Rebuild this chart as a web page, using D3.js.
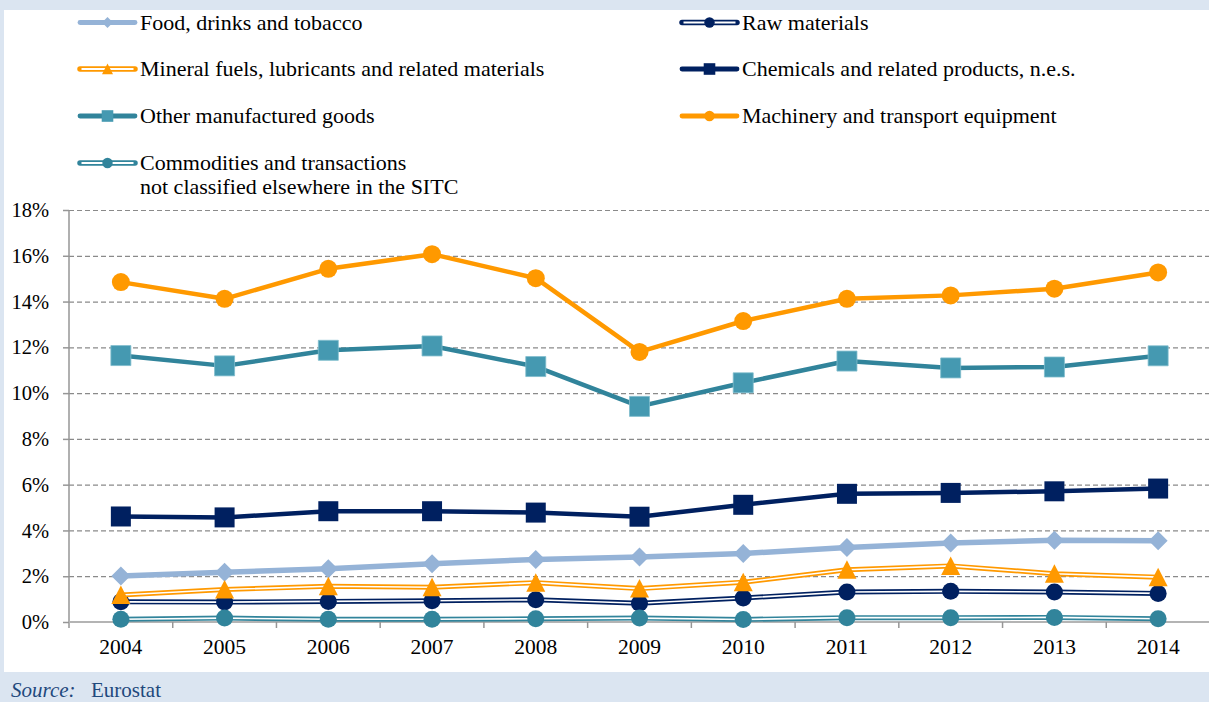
<!DOCTYPE html>
<html>
<head>
<meta charset="utf-8">
<script src="https://cdn.jsdelivr.net/npm/d3@7"></script>
<style>
  html, body { margin: 0; padding: 0; background: #fff; }
  svg { display: block; }
  text { font-family: "Liberation Serif", "Times New Roman", serif; fill: #000; }
</style>
</head>
<body>
<svg id="chart" width="1209" height="702"></svg>
<script>
// Share of extra-EU trade by SITC product group, 2004-2014 (%)
const years = ["2004","2005","2006","2007","2008","2009","2010","2011","2012","2013","2014"];
const yTicks = [0, 2, 4, 6, 8, 10, 12, 14, 16, 18];

const food        = [2.01, 2.17, 2.33, 2.55, 2.73, 2.84, 2.99, 3.25, 3.45, 3.57, 3.55];
const rawMaterials = [0.88, 0.87, 0.90, 0.93, 0.97, 0.82, 1.05, 1.31, 1.34, 1.31, 1.25];
const mineralFuels = [1.18, 1.42, 1.56, 1.52, 1.72, 1.46, 1.74, 2.28, 2.45, 2.11, 1.96];
const chemicals   = [4.61, 4.57, 4.84, 4.84, 4.78, 4.60, 5.12, 5.60, 5.64, 5.71, 5.83];
const otherGoods  = [11.64, 11.19, 11.87, 12.06, 11.16, 9.42, 10.45, 11.40, 11.10, 11.14, 11.63];
const machinery   = [14.85, 14.12, 15.43, 16.07, 15.02, 11.80, 13.15, 14.12, 14.27, 14.56, 15.27];
const commodities = [0.12, 0.17, 0.12, 0.12, 0.14, 0.17, 0.11, 0.19, 0.19, 0.20, 0.14];

const series = [
  { name: ["Food, drinks and tobacco"], values: food, color: "#95b3d7", fill: "#95b3d7", width: 5.5, double: false, marker: "diamond", legendCol: 0, legendRow: 0 },
  { name: ["Raw materials"], values: rawMaterials, color: "#002060", fill: "#002060", width: 5, double: true, marker: "circle", legendCol: 1, legendRow: 0 },
  { name: ["Mineral fuels, lubricants and related materials"], values: mineralFuels, color: "#ff9900", fill: "#ff9900", width: 5, double: true, marker: "triangle", legendCol: 0, legendRow: 1 },
  { name: ["Chemicals and related products, n.e.s."], values: chemicals, color: "#002060", fill: "#002060", width: 4.5, double: false, marker: "square", legendCol: 1, legendRow: 1 },
  { name: ["Other manufactured goods"], values: otherGoods, color: "#31849b", fill: "#4599b1", width: 4.5, double: false, marker: "square", legendCol: 0, legendRow: 2 },
  { name: ["Machinery and transport equipment"], values: machinery, color: "#ff9900", fill: "#ff9900", width: 4.5, double: false, marker: "circle", legendCol: 1, legendRow: 2 },
  { name: ["Commodities and transactions", "not classified elsewhere in the SITC"], values: commodities, color: "#31849b", fill: "#31849b", width: 5, double: true, marker: "circle", legendCol: 0, legendRow: 3 }
];

const svg = d3.select("#chart");
const W = 1209, H = 702;

// frame bands
svg.append("rect").attr("x", 0).attr("y", 0).attr("width", W).attr("height", 10).attr("fill", "#dbe5f1");
svg.append("rect").attr("x", 0).attr("y", 0).attr("width", 4).attr("height", H).attr("fill", "#dbe5f1");
svg.append("rect").attr("x", 0).attr("y", 672).attr("width", W).attr("height", 30).attr("fill", "#dbe5f1");

const plot = { left: 69, right: 1210, top: 210, bottom: 622 };
const x = d3.scaleBand().domain(years).range([plot.left, plot.right]).padding(0);
const y = d3.scaleLinear().domain([0, 18]).range([plot.bottom, plot.top]);
const cx = d => x(d) + x.bandwidth() / 2;

// dashed gridlines
const grid = svg.append("g").attr("transform", `translate(${plot.left},0)`)
  .call(d3.axisLeft(y).tickValues(yTicks.filter(v => v > 0)).tickSize(-(W - plot.left)).tickFormat(""));
grid.select(".domain").remove();
grid.selectAll("line").attr("stroke", "#8a8a8a").attr("stroke-width", 1.2).attr("stroke-dasharray", "5,3");

// y axis
const yAxis = svg.append("g").attr("transform", `translate(${plot.left},0)`)
  .call(d3.axisLeft(y).tickValues(yTicks).tickSize(6).tickSizeOuter(0).tickPadding(14).tickFormat(d => d + "%"));
yAxis.select(".domain").attr("stroke", "#969696").attr("stroke-width", 1.5).attr("d", `M0,${plot.top}V${plot.bottom + 6}`);
yAxis.selectAll(".tick line").attr("stroke", "#969696").attr("stroke-width", 1.5);
yAxis.selectAll(".tick text").attr("font-family", "Liberation Serif").attr("font-size", 20.5).attr("fill", "#000");

// x axis with ticks between categories
const xAxis = svg.append("g").attr("transform", `translate(0,${plot.bottom})`)
  .call(d3.axisBottom(x).tickSize(0).tickSizeOuter(0).tickPadding(17));
xAxis.select(".domain").attr("stroke", "#b4b4b4").attr("stroke-width", 2).attr("d", `M${plot.left},0H${W}`);
xAxis.selectAll(".tick text").attr("font-family", "Liberation Serif").attr("font-size", 21.5).attr("fill", "#000");
xAxis.selectAll(".sep").data(years.slice(1)).enter().append("line")
  .attr("x1", d => x(d)).attr("x2", d => x(d)).attr("y1", 0).attr("y2", 6)
  .attr("stroke", "#969696").attr("stroke-width", 1.5);

// marker symbols
function markerPath(type, size) {
  const s = size;
  switch (type) {
    case "diamond": return `M0,${-s}L${s},0L0,${s}L${-s},0Z`;
    case "triangle": return `M0,${-s}L${s},${s * 0.95}L${-s},${s * 0.95}Z`;
    case "square": return `M${-s},${-s}H${s}V${s}H${-s}Z`;
    default: return d3.arc()({ innerRadius: 0, outerRadius: s, startAngle: 0, endAngle: 2 * Math.PI });
  }
}
const markerSize = { diamond: 9.5, triangle: 9.5, square: 10, circle: 9 };

const line = d3.line().x((d, i) => cx(years[i])).y(d => y(d));

series.forEach(s => {
  const g = svg.append("g");
  g.append("path").attr("d", line(s.values)).attr("fill", "none")
    .attr("stroke", s.color).attr("stroke-width", s.width).attr("stroke-linejoin", "round");
  if (s.double) {
    g.append("path").attr("d", line(s.values)).attr("fill", "none")
      .attr("stroke", "#fff").attr("stroke-width", 1.6).attr("stroke-linejoin", "round");
  }
  const sz = s.marker === "circle" && s.double ? 8.5 : markerSize[s.marker];
  g.selectAll(".m").data(s.values).enter().append("path")
    .attr("transform", (d, i) => `translate(${cx(years[i])},${y(d)})`)
    .attr("d", markerPath(s.marker, sz))
    .attr("fill", s.fill)
    .attr("stroke", s.marker === "square" && s.fill !== s.color ? "#7fbccd" : "none")
    .attr("stroke-width", 0.8);
});

// legend
const legendX = [80, 682];
const legendY = [22.5, 69, 116, 163];
series.forEach(s => {
  const lx = legendX[s.legendCol], ly = legendY[s.legendRow];
  const g = svg.append("g").attr("transform", `translate(${lx},${ly})`);
  g.append("line").attr("x1", 0).attr("x2", 55).attr("y1", 0).attr("y2", 0)
    .attr("stroke", s.color).attr("stroke-width", s.double ? 5.5 : 4.8).attr("stroke-linecap", "round");
  if (s.double) {
    g.append("line").attr("x1", 1.5).attr("x2", 53.5).attr("y1", 0).attr("y2", 0)
      .attr("stroke", "#fff").attr("stroke-width", 1.8);
  }
  const lsz = { diamond: 5.5, triangle: 5.5, square: 5.8, circle: 5.2 }[s.marker];
  g.append("path").attr("transform", "translate(27.5,0)").attr("d", markerPath(s.marker, lsz)).attr("fill", s.fill);
  const t = g.append("text").attr("x", 60).attr("y", 7).attr("font-size", 22);
  s.name.forEach((n, i) => t.append("tspan").attr("x", 60).attr("dy", i === 0 ? 0 : 23.5).text(n));
});

// source note
const src = svg.append("text").attr("x", 11).attr("y", 697).attr("font-size", 21).attr("fill", "#1f497d");
src.append("tspan").attr("font-style", "italic").attr("fill", "#1f497d").text("Source:");
src.append("tspan").attr("x", 91).attr("fill", "#1f497d").text("Eurostat");
</script>
</body>
</html>
